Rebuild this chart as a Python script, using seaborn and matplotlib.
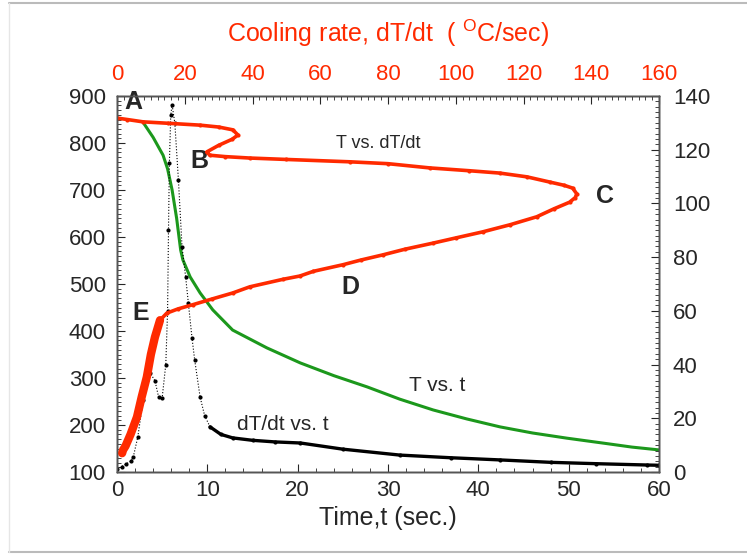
import pandas as pd
import matplotlib.pyplot as plt
import seaborn as sns
import numpy as np
from matplotlib.lines import Line2D
from matplotlib.ticker import MultipleLocator

# T vs t (green) - time in sec, temperature in C
time_T = [2.85, 4.0, 5.1, 5.6, 6.1, 6.6, 7.05, 7.3, 8.1, 9.2, 10.6, 12.8, 16.6, 20.3, 24.0,
          27.7, 31.3, 35.0, 38.7, 42.4, 46.0, 49.8, 54.0, 57.0, 60.0]
temp_T = [845, 812, 774, 745, 700, 640, 572, 551, 515, 481, 445, 402, 364, 332, 305,
          281, 255, 232, 213, 196, 183, 172, 161, 153, 147]

# T vs dT/dt (red) - cooling rate on top axis
rate_R = [0, 3, 7.7, 15, 24.5, 30, 34.2, 35.7, 34, 30, 26.5, 27.4, 32, 39.2, 50, 68.7, 80,
          92.3, 104, 113, 121, 127.7, 132, 134.5, 135.7, 135.3, 133.6, 129, 123.9, 116, 108,
          100, 93.3, 85, 78.5, 72, 66.7, 58, 54, 49, 39.2, 34.2, 28, 22.4, 18, 14.7, 12.7,
          11.2, 10, 8.8, 7.3, 5.9, 4, 2.5, 1.8, 1.5]
temp_R = [853, 850, 845, 842, 838, 834, 828, 817, 808, 795, 781, 774, 771, 768, 765, 760, 756,
          747, 741, 736, 728, 717, 710, 704, 692, 684, 674, 660, 643, 626, 611,
          598, 587, 574, 562, 551, 541, 527, 517, 510, 494, 481, 468, 456, 447, 438, 423,
          387, 350, 302, 260, 217, 180, 155, 147, 140]

# dT/dt vs t (black) - right axis
time_D = [0, 0.5, 1.0, 1.5, 1.8, 2.3, 2.9, 3.65, 4.2, 4.6, 5.0, 5.4, 5.6, 5.7, 5.8, 5.95, 6.1,
          6.4, 6.8, 7.2, 7.6, 7.9, 8.3, 8.6, 9.2, 9.7, 10.3, 11.5, 12.8, 15, 17.5, 20.3, 25,
          31.3, 37, 42.4, 48, 53, 58.7, 60]
rate_D = [1, 2, 3, 4, 5.6, 13, 26.8, 37, 34, 28, 27.6, 40, 60, 90, 115, 133, 136.6,
          130, 108.7, 83.8, 72.6, 62.9, 50, 41.7, 27.9, 21, 16.8, 14, 12.7, 11.8, 11.2, 10.8, 8.5,
          6.3, 5.3, 4.5, 3.6, 3.1, 2.6, 2.5]

green = pd.DataFrame({'t': time_T, 'T': temp_T})
red = pd.DataFrame({'r': rate_R, 'T': temp_R})
black = pd.DataFrame({'t': time_D, 'r': rate_D})

sns.set_style('white')
plt.rcParams['font.family'] = ['Liberation Sans', 'DejaVu Sans']
plt.rcParams['mathtext.fontset'] = 'custom'
plt.rcParams['mathtext.rm'] = 'Liberation Sans'

RED = '#ff2a00'
GREEN = '#1c981c'

fig = plt.figure(figsize=(7.47, 5.56), dpi=100)
ax = fig.add_axes([117/747, 1 - 472/556, 542/747, 376/556])
ax_r = ax.twinx()
ax_t = ax.twiny()

# green: T vs t
sns.lineplot(data=green, x='t', y='T', ax=ax, color=GREEN, linewidth=2.2, sort=False, estimator=None)

# black: dT/dt vs t
sns.lineplot(data=black, x='t', y='r', ax=ax_r, color='black', linewidth=0.8, linestyle=':',
             marker='o', markersize=3, markeredgewidth=0, sort=False, estimator=None)
tail = black[black['t'] >= 10]
sns.lineplot(data=tail, x='t', y='r', ax=ax_r, color='black', linewidth=2.4, sort=False, estimator=None)

# red: T vs dT/dt
sns.lineplot(data=red, x='r', y='T', ax=ax_t, color=RED, linewidth=2.6, marker='o', markersize=3,
             markeredgewidth=0, sort=False, estimator=None)
low = red[red['T'] <= 430]
sns.lineplot(data=low, x='r', y='T', ax=ax_t, color=RED, linewidth=6, sort=False, estimator=None,
             solid_capstyle='round')

ax.set_xlim(0, 60)
ax.set_ylim(100, 900)
ax_r.set_ylim(0, 140)
ax_t.set_xlim(0, 160)
ax_t.set_ylim(100, 900)

ax.xaxis.set_major_locator(MultipleLocator(10))
ax.xaxis.set_minor_locator(MultipleLocator(2))
ax.yaxis.set_major_locator(MultipleLocator(100))
ax.yaxis.set_minor_locator(MultipleLocator(10))
ax_r.yaxis.set_major_locator(MultipleLocator(20))
ax_r.yaxis.set_minor_locator(MultipleLocator(2))
ax_t.xaxis.set_major_locator(MultipleLocator(20))
ax_t.xaxis.set_minor_locator(MultipleLocator(2))

for a in (ax, ax_r, ax_t):
    a.tick_params(which='major', direction='in', length=6, width=0.8, labelsize=16)
    a.tick_params(which='minor', direction='in', length=3, width=0.6)
    for s in a.spines.values():
        s.set_color('#555555')
        s.set_linewidth(1)

ax.tick_params(axis='y', which='both', left=True, pad=8)
ax.tick_params(axis='x', which='both', bottom=True, pad=6)
ax_r.tick_params(axis='y', which='both', right=True, pad=10)
ax_t.tick_params(axis='x', which='both', top=True, pad=8, labelcolor=RED)

ax.set_xlabel('Time,t (sec.)', fontsize=18, labelpad=3)
ax.set_ylabel('')
ax_r.set_ylabel('')
ax_t.set_ylabel('')
ax_t.set_xlabel('Cooling rate, dT/dt  ( $^{\\mathregular{O}}$C/sec)', fontsize=18, color=RED, labelpad=16)

# point labels
for txt, x, y in [('A', 1.8, 887), ('B', 9.1, 761), ('C', 54.0, 687), ('D', 25.8, 494), ('E', 2.6, 438)]:
    ax.text(x, y, txt, fontsize=18, fontweight='bold', ha='center', va='center', zorder=10)
ax.text(28.9, 798, 'T vs. dT/dt', fontsize=13, ha='center', va='center')
ax.text(35.4, 285, 'T vs. t', fontsize=15, ha='center', va='center')
ax.text(18.4, 200, 'dT/dt vs. t', fontsize=15, ha='center', va='center')

# outer frame
fc = '#bbbbbb'
fig.add_artist(Line2D([9/747, 1], [1 - 3/556, 1 - 3/556], color=fc, linewidth=1.5))
fig.add_artist(Line2D([9/747, 1], [1 - 552/556, 1 - 552/556], color=fc, linewidth=1.5))
fig.add_artist(Line2D([9/747, 9/747], [1 - 3/556, 1 - 552/556], color='#e6e6e6', linewidth=1))

fig.savefig('out.png', dpi=100)
